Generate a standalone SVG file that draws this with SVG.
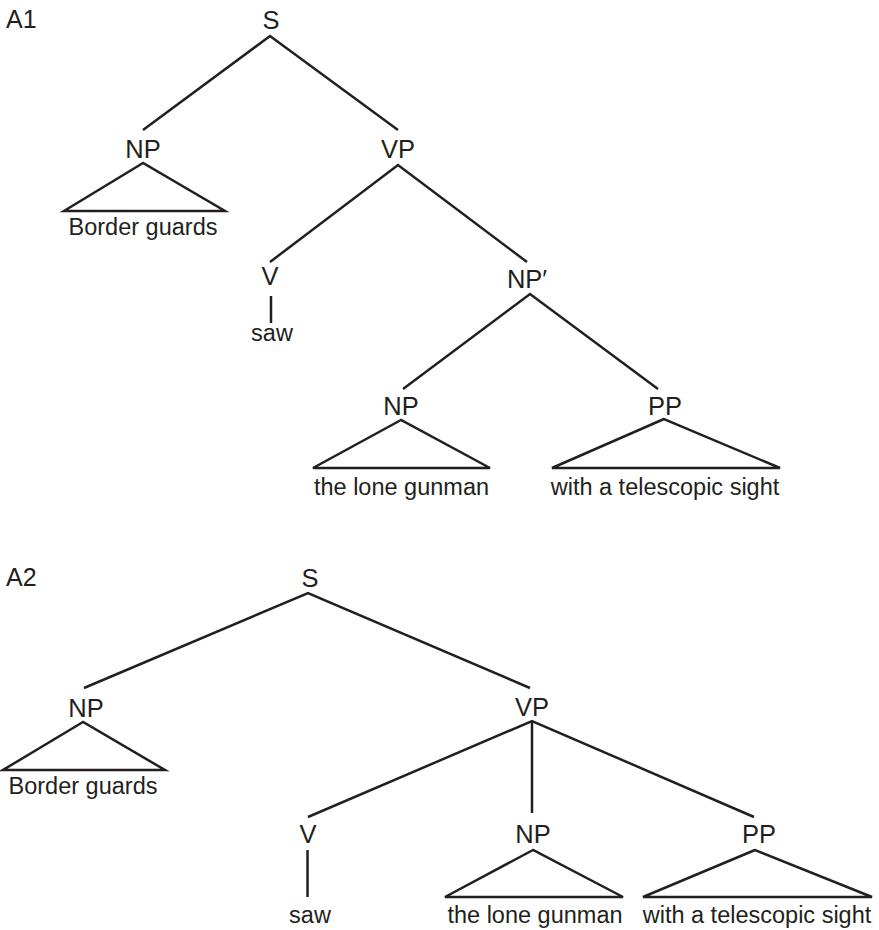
<svg xmlns="http://www.w3.org/2000/svg" width="879" height="930" viewBox="0 0 879 930">
<style>
.lbl{font-family:"Liberation Sans",Arial,sans-serif;font-size:25.5px;fill:#231f20;text-anchor:middle}
.leaf{font-family:"Liberation Sans",Arial,sans-serif;font-size:23.5px;fill:#231f20;text-anchor:middle}
.title{font-family:"Liberation Sans",Arial,sans-serif;font-size:25px;fill:#231f20}
.edge{stroke:#231f20;stroke-width:2.5;fill:none;stroke-linecap:butt}
.tri{stroke:#231f20;stroke-width:2.5;fill:none;stroke-linejoin:miter}
</style>
<rect width="879" height="930" fill="#ffffff"/>

<!-- Tree A1 -->
<text class="title" x="6" y="28">A1</text>
<g id="a1-S"><text class="lbl" x="271" y="28.5">S</text></g>
<g id="a1-NP-subj"><text class="lbl" x="143" y="158">NP</text>
  <polygon class="tri" points="143,163 64,211 225,211"/>
  <text class="leaf" x="143" y="235">Border guards</text></g>
<g id="a1-VP"><text class="lbl" x="398" y="158">VP</text></g>
<g id="a1-V"><text class="lbl" x="270" y="285">V</text></g>
<g id="a1-saw"><text class="leaf" x="272" y="341">saw</text></g>
<g id="a1-NPprime"><text class="lbl" x="527" y="288">NP′</text></g>
<g id="a1-NP-obj"><text class="lbl" x="401" y="415">NP</text>
  <polygon class="tri" points="401,420 313,468 490,468"/>
  <text class="leaf" x="401.5" y="495">the lone gunman</text></g>
<g id="a1-PP"><text class="lbl" x="665" y="415">PP</text>
  <polygon class="tri" points="664,419 552,468 780,468"/>
  <text class="leaf" x="665" y="495">with a telescopic sight</text></g>

<!-- Tree A2 -->
<text class="title" x="6" y="586">A2</text>
<g id="a2-S"><text class="lbl" x="310" y="586.5">S</text></g>
<g id="a2-NP-subj"><text class="lbl" x="86" y="717">NP</text>
  <polygon class="tri" points="83,722 3,770 165,770"/>
  <text class="leaf" x="83" y="794">Border guards</text></g>
<g id="a2-VP"><text class="lbl" x="532" y="715.5">VP</text></g>
<g id="a2-V"><text class="lbl" x="308" y="843">V</text></g>
<g id="a2-saw"><text class="leaf" x="310" y="923">saw</text></g>
<g id="a2-NP-obj"><text class="lbl" x="533" y="843">NP</text>
  <polygon class="tri" points="533,850 445,897 623,897"/>
  <text class="leaf" x="535" y="923">the lone gunman</text></g>
<g id="a2-PP"><text class="lbl" x="759" y="843">PP</text>
  <polygon class="tri" points="755,850 643,897 872,897"/>
  <text class="leaf" x="757" y="923">with a telescopic sight</text></g>

<g id="connectors">
  <!-- A1 -->
  <polyline class="edge" points="143,130 270,36 398,130"/>
  <polyline class="edge" points="270,262 398,165 527,262"/>
  <line class="edge" x1="271" y1="296" x2="271" y2="323"/>
  <polyline class="edge" points="403,389 530,294 658,389"/>
  <!-- A2 -->
  <polyline class="edge" points="84,688 308,593 530,688"/>
  <polyline class="edge" points="308,817 532,721 754,817"/>
  <line class="edge" x1="532" y1="721" x2="532" y2="813"/>
  <line class="edge" x1="307.5" y1="850" x2="307.5" y2="897"/>
</g>
</svg>
